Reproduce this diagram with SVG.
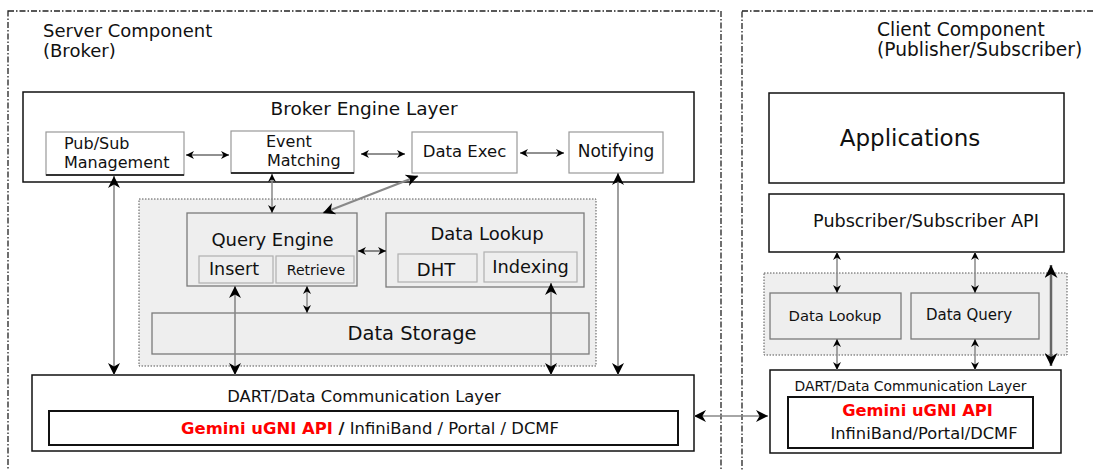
<svg xmlns="http://www.w3.org/2000/svg" width="1093" height="470" viewBox="0 0 1093 470">
<defs>
<style>
text{font-family:"DejaVu Sans","Liberation Sans",sans-serif;fill:#111}
.bound{fill:none;stroke:#222;stroke-width:1.3;stroke-dasharray:6,2,1.5,2}
.layer{fill:#fff;stroke:#111;stroke-width:1.5}
.sub{fill:#fff;stroke:#999;stroke-width:1.2}
.region{fill:#efefef;stroke:#555;stroke-width:1;stroke-dasharray:1.5,1.5}
.gbox{fill:#eeeeee;stroke:#7a7a7a;stroke-width:1.3}
.ibox{fill:#eeeeee;stroke:#b0b0b0;stroke-width:1.2}
.inner{fill:#fff;stroke:#111;stroke-width:2}
.shadow{stroke:#333;stroke-width:2}
.red{fill:#f00;font-weight:bold}
.s{stroke:#222;stroke-width:1;fill:none;marker-start:url(#hs);marker-end:url(#hs)}
.sg{stroke:#888;stroke-width:1.5;fill:none;marker-start:url(#hs);marker-end:url(#hs)}
.l{stroke:#888;stroke-width:1.6;fill:none;marker-start:url(#hl);marker-end:url(#hl)}
</style>
<marker id="hs" viewBox="0 0 10 10" refX="10" refY="5" markerWidth="10" markerHeight="8" markerUnits="userSpaceOnUse" orient="auto-start-reverse">
<path d="M0,0 L10,5 L0,10 L3,5 z" fill="#000"/>
</marker>
<marker id="hl" viewBox="0 0 10 10" refX="10" refY="5" markerWidth="15" markerHeight="12" markerUnits="userSpaceOnUse" orient="auto-start-reverse">
<path d="M0,0 L10,5 L0,10 L3,5 z" fill="#000"/>
</marker>
<marker id="hx" viewBox="0 0 10 10" refX="10" refY="5" markerWidth="17" markerHeight="13" markerUnits="userSpaceOnUse" orient="auto-start-reverse">
<path d="M0,0 L10,5 L0,10 L3,5 z" fill="#000"/>
</marker>
</defs>
<rect width="1093" height="470" fill="#fff"/>

<g id="server-boundary">
<rect class="bound" x="8" y="11" width="713" height="480"/>
<text x="43" y="37" font-size="18">Server Component</text>
<text x="43" y="57" font-size="18">(Broker)</text>
</g>
<g id="client-boundary">
<rect class="bound" x="742" y="11" width="380" height="480"/>
<text x="877" y="36" font-size="18.6">Client Component</text>
<text x="877" y="56" font-size="18.6">(Publisher/Subscriber)</text>
</g>

<g id="broker-engine-layer">
<rect class="layer" x="23" y="92" width="671" height="90"/>
<text x="364" y="115" font-size="18.5" text-anchor="middle">Broker Engine Layer</text>
</g>
<g id="pubsub-management">
<rect class="sub" x="46" y="132" width="138" height="43"/>
<line class="shadow" x1="46" y1="175" x2="184" y2="175"/>
<text x="64" y="149" font-size="16">Pub/Sub</text>
<text x="64" y="168" font-size="16">Management</text>
</g>
<g id="event-matching">
<rect class="sub" x="231" y="131" width="123" height="42"/>
<line class="shadow" x1="231" y1="173" x2="354" y2="173"/>
<text x="266" y="147" font-size="16">Event</text>
<text x="267" y="166" font-size="16">Matching</text>
</g>
<g id="data-exec">
<rect class="sub" x="412" y="132" width="105" height="41"/>
<text x="464.5" y="157" font-size="16.5" text-anchor="middle">Data Exec</text>
</g>
<g id="notifying">
<rect class="sub" x="569" y="132" width="94" height="41"/>
<text x="616" y="157" font-size="17" text-anchor="middle">Notifying</text>
</g>

<g id="storage-region">
<rect class="region" x="139" y="199" width="457" height="167"/>
</g>
<g id="query-engine">
<rect class="gbox" x="187" y="213" width="170" height="73"/>
<text x="272.5" y="246" font-size="18" text-anchor="middle">Query Engine</text>
<rect class="ibox" x="199" y="256" width="74" height="27"/>
<text x="234" y="275" font-size="17.5" text-anchor="middle">Insert</text>
<rect class="ibox" x="276" y="256" width="78" height="27"/>
<text x="316" y="275" font-size="14" text-anchor="middle">Retrieve</text>
</g>
<g id="data-lookup">
<rect class="gbox" x="386" y="213" width="198" height="74"/>
<text x="487" y="240" font-size="18" text-anchor="middle">Data Lookup</text>
<rect class="ibox" x="398" y="254" width="79" height="28"/>
<text x="436" y="276" font-size="18" text-anchor="middle">DHT</text>
<rect class="ibox" x="484" y="252" width="93" height="30"/>
<text x="530.5" y="273" font-size="17.8" text-anchor="middle">Indexing</text>
</g>
<g id="data-storage">
<rect class="gbox" x="152" y="313" width="437" height="41"/>
<text x="412" y="340" font-size="19.5" text-anchor="middle">Data Storage</text>
</g>

<g id="server-dart">
<rect class="layer" x="32" y="375" width="662" height="76"/>
<text x="364" y="402" font-size="16.4" text-anchor="middle">DART/Data Communication Layer</text>
<rect class="inner" x="49" y="411" width="629" height="34"/>
<text x="370" y="434" font-size="16.4" text-anchor="middle"><tspan class="red">Gemini uGNI API</tspan><tspan font-weight="bold"> /</tspan> InfiniBand / Portal / DCMF</text>
</g>

<g id="applications">
<rect class="layer" x="769" y="93" width="295" height="90" stroke-width="1.2"/>
<text x="910" y="146" font-size="23" text-anchor="middle">Applications</text>
</g>
<g id="pubsub-api">
<rect class="layer" x="769" y="194" width="295" height="58" stroke-width="1.2"/>
<text x="926" y="227" font-size="17.6" text-anchor="middle">Pubscriber/Subscriber API</text>
</g>
<g id="client-region">
<rect class="region" x="764" y="273" width="303" height="82" stroke="#aaa"/>
</g>
<g id="client-data-lookup">
<rect class="gbox" x="770" y="293" width="131" height="46"/>
<text x="835" y="321" font-size="14.8" text-anchor="middle">Data Lookup</text>
</g>
<g id="client-data-query">
<rect class="gbox" x="911" y="293" width="128" height="46"/>
<text x="969" y="320" font-size="15" text-anchor="middle">Data Query</text>
</g>
<g id="client-dart">
<rect class="layer" x="770" y="370" width="291" height="83" stroke-width="1.2"/>
<text x="910.5" y="391" font-size="13.9" text-anchor="middle">DART/Data Communication Layer</text>
<rect class="inner" x="788" y="397" width="245" height="51"/>
<text x="917.5" y="416" font-size="16.3" text-anchor="middle" class="red">Gemini uGNI API</text>
<text x="924" y="439" font-size="16.3" text-anchor="middle">InfiniBand/Portal/DCMF</text>
</g>

<g id="connectors">
<line class="s" x1="186" y1="155" x2="229" y2="155"/>
<line class="s" x1="361" y1="154" x2="405" y2="154"/>
<line class="s" x1="520" y1="153" x2="564" y2="153"/>
<line class="l" x1="114" y1="176" x2="114" y2="375"/>
<line class="sg" x1="272" y1="174" x2="272" y2="213"/>
<line x1="418" y1="176" x2="323" y2="213" stroke="#888" stroke-width="2.2" marker-start="url(#hl)" marker-end="url(#hl)"/>
<line class="l" x1="618" y1="173" x2="618" y2="375"/>
<line class="s" x1="358" y1="251" x2="386" y2="251"/>
<line class="l" x1="235" y1="286" x2="235" y2="375"/>
<line class="sg" x1="307" y1="286" x2="307" y2="313"/>
<line class="l" x1="551" y1="283" x2="551" y2="375"/>
<line class="l" x1="694" y1="416" x2="768" y2="416"/>
<line class="sg" x1="837" y1="252" x2="837" y2="293"/>
<line class="sg" x1="837" y1="339" x2="837" y2="370"/>
<line class="sg" x1="975" y1="252" x2="975" y2="293"/>
<line class="sg" x1="975" y1="339" x2="975" y2="370"/>
<line x1="1051" y1="265" x2="1051" y2="366" stroke="#666" stroke-width="2.5" marker-start="url(#hx)" marker-end="url(#hx)"/>
</g>
</svg>
